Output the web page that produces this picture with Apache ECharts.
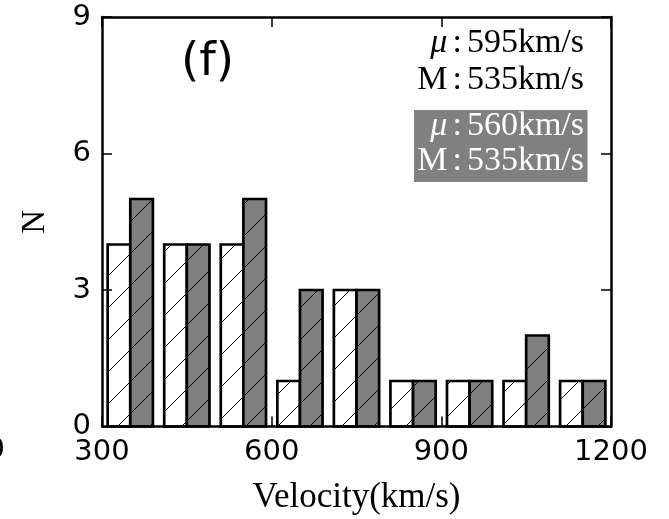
<!DOCTYPE html>
<html>
<head>
<meta charset="utf-8">
<script src="https://cdn.jsdelivr.net/npm/echarts@6/dist/echarts.min.js"></script>
<style>
  html, body { margin: 0; padding: 0; background: #fff; }
  #chart { width: 669px; height: 519px; }
</style>
</head>
<body>
<div id="chart"></div>
<script>
// Histogram bins (left edges, km/s) and counts per bin
const binStarts = [300, 400, 500, 600, 700, 800, 900, 1000, 1100];
const binWidth = 100;
const countsOpen = [4, 4, 4, 1, 3, 1, 1, 1, 1];   // white hatched bars
const countsFilled = [5, 4, 5, 3, 3, 1, 1, 2, 1]; // grey hatched bars
const xTicks = [300, 600, 900, 1200];
const yTicks = [0, 3, 6, 9];
const statsOpen = ['595', '535'];
const statsFilled = ['560', '535'];

// "/" hatch tile, optionally on a filled background
function hatchTile(bg) {
  const S = 32;
  const c = document.createElement('canvas');
  c.width = S; c.height = S;
  const ctx = c.getContext('2d');
  if (bg) { ctx.fillStyle = bg; ctx.fillRect(0, 0, S, S); }
  ctx.strokeStyle = '#000';
  ctx.lineWidth = 1;
  for (const k of [-S, 0, S]) {
    ctx.beginPath();
    ctx.moveTo(k, S);
    ctx.lineTo(k + S, 0);
    ctx.stroke();
  }
  return { image: c, repeat: 'repeat' };
}
const fillOpen = hatchTile('#ffffff');
const fillFilled = hatchTile('#808080');

// Each bin holds two bars side by side, occupying 80% of the bin
function barData(counts, slot) {
  return binStarts.map((b, i) => [
    b + binWidth * (0.1 + 0.4 * slot),
    b + binWidth * (0.1 + 0.4 * (slot + 1)),
    counts[i]
  ]);
}

function makeRender(fill) {
  return function (params, api) {
    const p0 = api.coord([api.value(0), api.value(2)]);
    const p1 = api.coord([api.value(1), 0]);
    return {
      type: 'rect',
      shape: { x: p0[0], y: p0[1], width: p1[0] - p0[0], height: p1[1] - p0[1] },
      style: { fill: fill, stroke: '#000', lineWidth: 2.7 }
    };
  };
}

const plain = v => String(v);
const tickFont = { color: '#000', fontFamily: 'DejaVu Sans', fontSize: 29, formatter: plain };
const spine = { show: true, onZero: false, lineStyle: { color: '#000', width: 2.5 } };
const innerTick = { show: true, inside: true, length: 10, lineStyle: { color: '#000', width: 1.5 } };

const chart = echarts.init(document.getElementById('chart'), null, { renderer: 'canvas' });

const serif = 'Liberation Serif';
function statText(sym, val) {
  return '{' + sym + '|' + (sym === 'mu' ? 'μ' : 'M') + '}{c|:}{r|' + val + 'km/s}';
}
function richFor(color) {
  return {
    mu: { fontFamily: serif, fontStyle: 'italic', fontSize: 34, fill: color, color: color },
    M: { fontFamily: serif, fontSize: 34, fill: color, color: color },
    c: { fontFamily: serif, fontSize: 34, fill: color, color: color, padding: [0, 5, 0, 5] },
    r: { fontFamily: serif, fontSize: 34, fill: color, color: color }
  };
}

chart.setOption({
  animation: false,
  backgroundColor: '#fff',
  grid: {
    left: 102, right: 58, top: 17, bottom: 92.5,
    show: false, outerBoundsMode: 'none', containLabel: false
  },
  xAxis: [
    {
      type: 'value', position: 'bottom',
      min: xTicks[0], max: xTicks[xTicks.length - 1], interval: xTicks[1] - xTicks[0],
      axisLine: spine, axisTick: innerTick, splitLine: { show: false },
      axisLabel: Object.assign({ margin: 11, showMinLabel: true, showMaxLabel: true }, tickFont),
      name: 'Velocity(km/s)', nameLocation: 'middle', nameGap: 54, nameMoveOverlap: false,
      nameTextStyle: { fontFamily: serif, fontSize: 35, color: '#000' },
      z: 10
    },
    {
      type: 'value', position: 'top',
      min: xTicks[0], max: xTicks[xTicks.length - 1], interval: xTicks[1] - xTicks[0],
      axisLine: spine, axisTick: innerTick, splitLine: { show: false },
      axisLabel: { show: false }, z: 10
    }
  ],
  yAxis: [
    {
      type: 'value', position: 'left',
      min: yTicks[0], max: yTicks[yTicks.length - 1], interval: yTicks[1] - yTicks[0],
      axisLine: spine, axisTick: innerTick, splitLine: { show: false },
      axisLabel: Object.assign({ margin: 11, showMinLabel: true, showMaxLabel: true }, tickFont),
      name: 'N', nameLocation: 'middle', nameGap: 50, nameMoveOverlap: false,
      nameTextStyle: { fontFamily: serif, fontSize: 33, color: '#000' },
      z: 10
    },
    {
      type: 'value', position: 'right',
      min: yTicks[0], max: yTicks[yTicks.length - 1], interval: yTicks[1] - yTicks[0],
      axisLine: spine, axisTick: innerTick, splitLine: { show: false },
      axisLabel: { show: false }, z: 10
    }
  ],
  series: [
    {
      type: 'custom', name: 'open', xAxisIndex: 0, yAxisIndex: 0,
      data: barData(countsOpen, 0), renderItem: makeRender(fillOpen), z: 2
    },
    {
      type: 'custom', name: 'filled', xAxisIndex: 0, yAxisIndex: 0,
      data: barData(countsFilled, 1), renderItem: makeRender(fillFilled), z: 3
    }
  ],
  graphic: [
    // panel tag
    { type: 'text', x: 207.5, y: 63, z: 20,
      style: { text: '(f)', font: '47px "DejaVu Sans"', fill: '#000', align: 'center', verticalAlign: 'middle' } },
    // summary statistics, open histogram
    { type: 'text', x: 584, y: 43, z: 20,
      style: { text: statText('mu', statsOpen[0]), rich: richFor('#000'), align: 'right', verticalAlign: 'middle' } },
    { type: 'text', x: 584, y: 80, z: 20,
      style: { text: statText('M', statsOpen[1]), rich: richFor('#000'), align: 'right', verticalAlign: 'middle' } },
    // summary statistics, filled histogram
    { type: 'rect', shape: { x: 414, y: 110, width: 173.5, height: 72 }, z: 19,
      style: { fill: '#808080' } },
    { type: 'text', x: 584, y: 126.5, z: 20,
      style: { text: statText('mu', statsFilled[0]), rich: richFor('#fff'), align: 'right', verticalAlign: 'middle' } },
    { type: 'text', x: 584, y: 161, z: 20,
      style: { text: statText('M', statsFilled[1]), rich: richFor('#fff'), align: 'right', verticalAlign: 'middle' } },
    // tick label of the neighbouring panel, cut by the frame
    { type: 'text', x: 5, y: 450.5, z: 20,
      style: { text: '1200', font: '29px "DejaVu Sans"', fill: '#000', align: 'right', verticalAlign: 'middle' } }
  ]
});
</script>
</body>
</html>
